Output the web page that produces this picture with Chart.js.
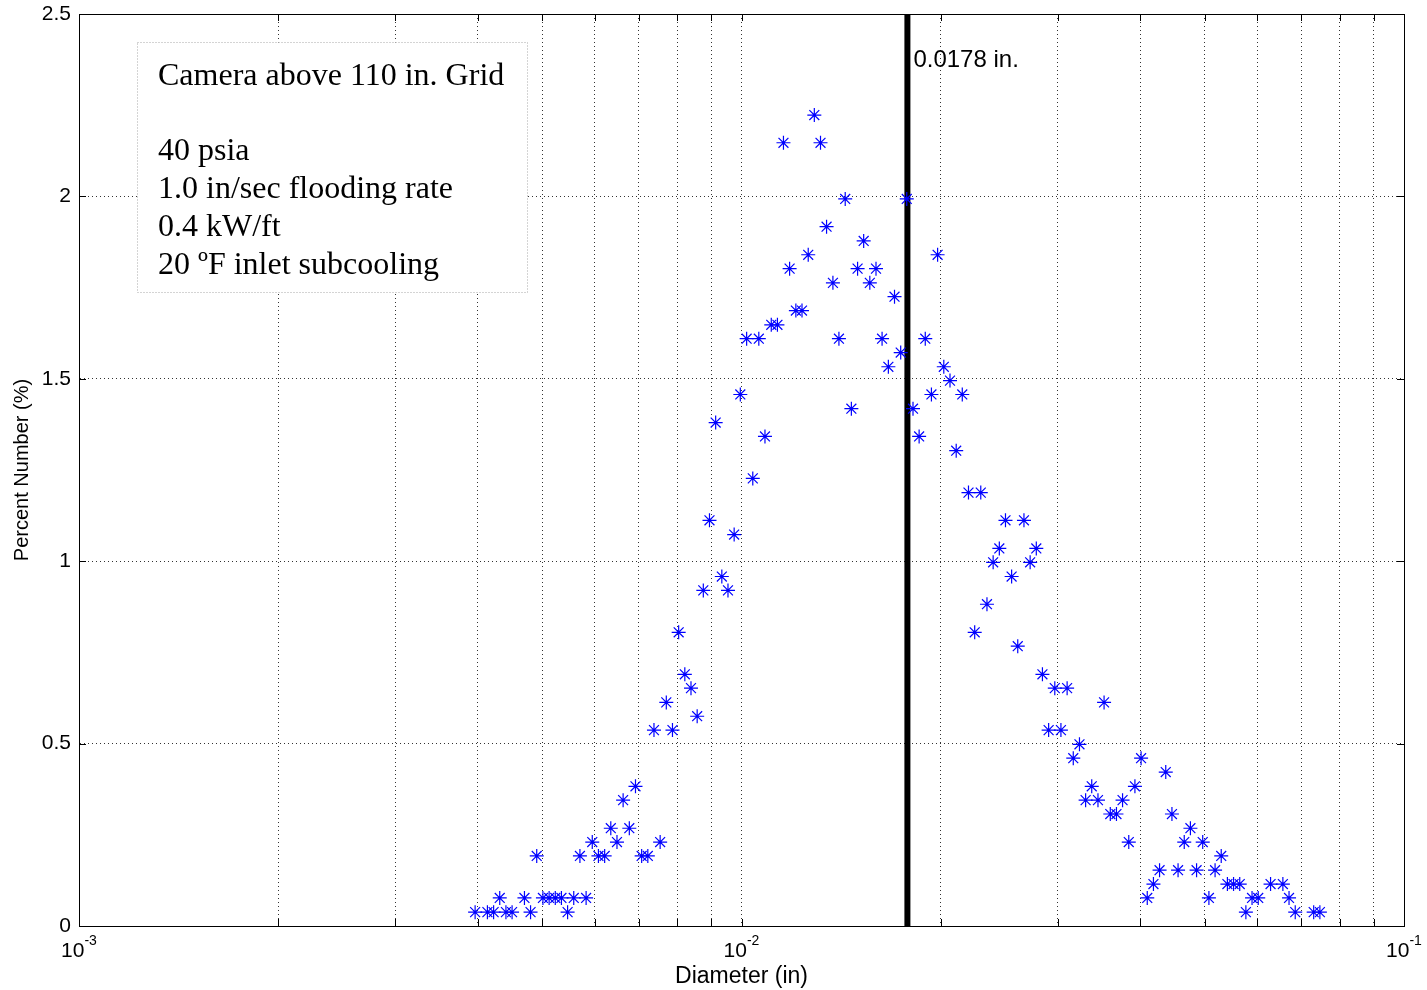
<!DOCTYPE html>
<html>
<head>
<meta charset="utf-8">
<script src="https://cdn.jsdelivr.net/npm/chart.js@4.4.0/dist/chart.umd.min.js"></script>
<style>
  html, body { margin: 0; padding: 0; background: #fff; }
  #wrap { width: 1427px; height: 990px; }
</style>
</head>
<body>
<div id="wrap"><canvas id="sizeChart"></canvas></div>
<script>
// bin diameters (in) that have a non-zero count
const diameters = [
  0.003962, 0.004135, 0.004225, 0.004316, 0.004410, 0.004505, 0.004703, 0.004804, 0.004908, 0.005015,
  0.005124, 0.005235, 0.005348, 0.005464, 0.005582, 0.005703, 0.005827, 0.005953, 0.006082, 0.006215,
  0.006349, 0.006487, 0.006627, 0.006771, 0.006918, 0.007068, 0.007221, 0.007377, 0.007537, 0.007700,
  0.007867, 0.008038, 0.008212, 0.008390, 0.008572, 0.008757, 0.008947, 0.009141, 0.009339, 0.009541,
  0.009748, 0.009959, 0.01018, 0.01040, 0.01062, 0.01085, 0.01109, 0.01133, 0.01157, 0.01182,
  0.01208, 0.01234, 0.01261, 0.01288, 0.01316, 0.01344, 0.01374, 0.01403, 0.01434, 0.01465,
  0.01497, 0.01529, 0.01562, 0.01596, 0.01630, 0.01666, 0.01702, 0.01739, 0.01776, 0.01815,
  0.01854, 0.01894, 0.01935, 0.01977, 0.02020, 0.02064, 0.02109, 0.02154, 0.02201, 0.02249,
  0.02297, 0.02347, 0.02398, 0.02450, 0.02503, 0.02557, 0.02612, 0.02669, 0.02727, 0.02786,
  0.02846, 0.02908, 0.02971, 0.03035, 0.03101, 0.03168, 0.03237, 0.03307, 0.03378, 0.03452,
  0.03526, 0.03603, 0.03681, 0.03760, 0.03842, 0.03925, 0.04010, 0.04097, 0.04186, 0.04276,
  0.04369, 0.04464, 0.04560, 0.04659, 0.04760, 0.04863, 0.04968, 0.05076, 0.05186, 0.05298,
  0.05413, 0.05530, 0.05650, 0.05772, 0.05897, 0.06025, 0.06289, 0.06564, 0.06706, 0.06852,
  0.07306, 0.07465
];

// percent number in each bin
const percents = [
  0.038, 0.038, 0.038, 0.077, 0.038, 0.038, 0.077, 0.038, 0.192, 0.077,
  0.077, 0.077, 0.077, 0.038, 0.077, 0.192, 0.077, 0.230, 0.192, 0.192,
  0.268, 0.230, 0.345, 0.268, 0.383, 0.192, 0.192, 0.537, 0.230, 0.613,
  0.537, 0.805, 0.690, 0.652, 0.575, 0.920, 1.112, 1.380, 0.958, 0.920,
  1.073, 1.457, 1.610, 1.227, 1.610, 1.342, 1.648, 1.648, 2.147, 1.802,
  1.687, 1.687, 1.840, 2.223, 2.147, 1.917, 1.763, 1.610, 1.993, 1.418,
  1.802, 1.878, 1.763, 1.802, 1.610, 1.533, 1.725, 1.572, 1.993, 1.418,
  1.342, 1.610, 1.457, 1.840, 1.533, 1.495, 1.303, 1.457, 1.188, 0.805,
  1.188, 0.882, 0.997, 1.035, 1.112, 0.958, 0.767, 1.112, 0.997, 1.035,
  0.690, 0.537, 0.652, 0.537, 0.652, 0.460, 0.498, 0.345, 0.383, 0.345,
  0.613, 0.307, 0.307, 0.345, 0.230, 0.383, 0.460, 0.077, 0.115, 0.153,
  0.422, 0.307, 0.153, 0.230, 0.268, 0.153, 0.230, 0.077, 0.153, 0.192,
  0.115, 0.115, 0.115, 0.038, 0.077, 0.077, 0.115, 0.115, 0.077, 0.038,
  0.038, 0.038
];

const meanDiameter = 0.0178;
const meanLabel = '0.0178 in.';

const xTicks = [0.001, 0.002, 0.003, 0.004, 0.005, 0.006, 0.007, 0.008, 0.009,
                0.01, 0.02, 0.03, 0.04, 0.05, 0.06, 0.07, 0.08, 0.09, 0.1];
const xMajorTicks = [0.001, 0.01, 0.1];
const xMajorExponents = ['-3', '-2', '-1'];
const yTicks = [0, 0.5, 1, 1.5, 2, 2.5];

const noteLines = [
  'Camera above 110 in. Grid',
  '',
  '40 psia',
  '1.0 in/sec flooding rate',
  '0.4 kW/ft',
  '20 ºF inlet subcooling'
];

const SANS = '"Liberation Sans", Arial, Helvetica, sans-serif';
const SERIF = '"Liberation Serif", "Times New Roman", serif';

const overlay = {
  id: 'overlay',
  beforeDatasetsDraw(chart) {
    const ctx = chart.ctx;
    ctx.save();
    // text box
    ctx.fillStyle = '#fff';
    ctx.fillRect(137.5, 42.5, 390, 250);
    ctx.strokeStyle = '#a8a8a8';
    ctx.lineWidth = 1;
    ctx.setLineDash([1, 2]);
    ctx.strokeRect(137.5, 42.5, 390, 250);
    ctx.setLineDash([]);
    ctx.fillStyle = '#000';
    ctx.font = '32px ' + SERIF;
    ctx.textBaseline = 'alphabetic';
    noteLines.forEach((t, i) => ctx.fillText(t, 158, 84.5 + i * 37.8));
    ctx.restore();
  },
  afterDraw(chart) {
    const ctx = chart.ctx;
    const a = chart.chartArea;
    const xs = chart.scales.x, ys = chart.scales.y;
    ctx.save();
    ctx.strokeStyle = '#000';
    ctx.lineWidth = 1;
    // frame
    ctx.strokeRect(Math.round(a.left) + 0.5, Math.round(a.top) + 0.5,
                   Math.round(a.right - a.left), Math.round(a.bottom - a.top));
    // inner tick marks
    ctx.beginPath();
    xTicks.forEach(v => {
      const px = Math.round(xs.getPixelForValue(v)) + 0.5;
      ctx.moveTo(px, a.bottom); ctx.lineTo(px, a.bottom - 7);
      ctx.moveTo(px, a.top); ctx.lineTo(px, a.top + 7);
    });
    yTicks.forEach(v => {
      const py = Math.round(ys.getPixelForValue(v)) + 0.5;
      ctx.moveTo(a.left, py); ctx.lineTo(a.left + 7, py);
      ctx.moveTo(a.right, py); ctx.lineTo(a.right - 7, py);
    });
    ctx.stroke();

    // x tick labels 10^n
    ctx.fillStyle = '#000';
    ctx.textBaseline = 'alphabetic';
    ctx.textAlign = 'left';
    xMajorTicks.forEach((v, i) => {
      const px = xs.getPixelForValue(v);
      ctx.font = '21px ' + SANS;
      const w1 = ctx.measureText('10').width;
      ctx.font = '14px ' + SANS;
      const w2 = ctx.measureText(xMajorExponents[i]).width;
      const x0 = px - (w1 + w2) / 2;
      ctx.font = '21px ' + SANS;
      ctx.fillText('10', x0, 956.5);
      ctx.font = '14px ' + SANS;
      ctx.fillText(xMajorExponents[i], x0 + w1, 945);
    });

    // label of the vertical line
    ctx.font = '24px ' + SANS;
    ctx.fillText(meanLabel, xs.getPixelForValue(meanDiameter) + 6, 67);
    ctx.restore();
  }
};

const points = diameters.map((d, i) => ({ x: d, y: percents[i] }));

new Chart(document.getElementById('sizeChart'), {
  type: 'scatter',
  data: {
    datasets: [{
      data: points,
      pointStyle: 'star',
      pointRadius: 7,
      borderColor: '#0000ff',
      backgroundColor: '#0000ff',
      borderWidth: 1.2
    }, {
      type: 'line',
      data: [{ x: meanDiameter, y: 0 }, { x: meanDiameter, y: 2.5 }],
      borderColor: '#000',
      borderWidth: 6,
      pointRadius: 0
    }]
  },
  options: {
    responsive: true,
    maintainAspectRatio: false,
    animation: false,
    layout: { padding: { left: 0, right: 23, top: 14, bottom: 0 } },
    plugins: { legend: { display: false }, tooltip: { enabled: false } },
    scales: {
      x: {
        type: 'logarithmic',
        min: 0.001,
        max: 0.1,
        afterBuildTicks: s => { s.ticks = xTicks.map(v => ({ value: v })); },
        afterFit: s => { s.height = 64; s.paddingLeft = 0; s.paddingRight = 0; },
        ticks: { display: false },
        grid: { color: '#333', lineWidth: 1, drawTicks: false },
        border: { display: true, color: '#000', width: 1, dash: [1, 3] },
        title: {
          display: true,
          text: 'Diameter (in)',
          color: '#000',
          font: { family: SANS, size: 23 },
          padding: { top: 0, bottom: 0 }
        }
      },
      y: {
        min: 0,
        max: 2.5,
        afterBuildTicks: s => { s.ticks = yTicks.map(v => ({ value: v })); },
        afterFit: s => { s.width = 79; s.paddingTop = 0; s.paddingBottom = 0; },
        ticks: {
          color: '#000',
          padding: 8,
          font: { family: SANS, size: 21 },
          callback: v => String(v)
        },
        grid: { color: '#333', lineWidth: 1, drawTicks: false },
        border: { display: true, color: '#000', width: 1, dash: [1, 3] },
        title: {
          display: true,
          text: 'Percent Number (%)',
          color: '#000',
          font: { family: SANS, size: 20 },
          padding: { top: 10, bottom: 0 }
        }
      }
    }
  },
  plugins: [overlay]
});
</script>
</body>
</html>
